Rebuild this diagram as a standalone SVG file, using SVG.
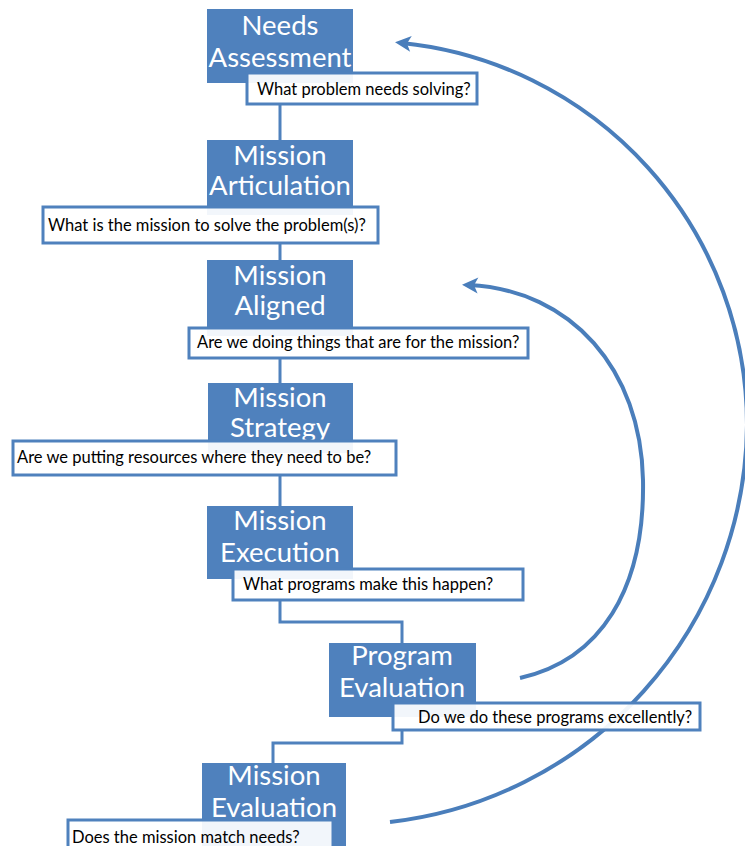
<svg xmlns="http://www.w3.org/2000/svg" width="745" height="846" viewBox="0 0 745 846">
<style>
.box{fill:#4F81BD}
.title{font-family:Lato,"Liberation Sans",sans-serif;font-size:27.5px;fill:#fff;text-anchor:middle}
.lbl{fill:#fff;fill-opacity:0.93;stroke:#4F81BD;stroke-width:3}
.q{font-family:Lato,"Liberation Sans",sans-serif;font-size:16.5px;fill:#000}
.conn{fill:none;stroke:#4F81BD;stroke-width:3}
.arc{fill:none;stroke:#4A7EBB;stroke-width:4}
</style>
<defs>
<marker id="ah" markerUnits="userSpaceOnUse" markerWidth="22" markerHeight="20" viewBox="-12 -10 22 20" refX="0" refY="0" orient="auto">
<path d="M7,0 L-9,-8 L-5,0 L-9,8 Z" fill="#4A7EBB"/>
</marker>
</defs>
<g id="connectors">
<path class="conn" d="M280,104 V140"/>
<path class="conn" d="M280,243 V260"/>
<path class="conn" d="M280,358 V383"/>
<path class="conn" d="M280,475 V506"/>
<path class="conn" d="M280,600 V622 H402 V643"/>
<path class="conn" d="M402,730 V743 H273 V763"/>
<path class="arc" d="M390,822 A403 403 0 0 0 747,425 A384 384 0 0 0 402,43" marker-end="url(#ah)"/>
<path class="arc" d="M520,678 C600,660 645,590 643,480 C641,370 572,290 469,285" marker-end="url(#ah)"/>
</g>
<g id="needs-assessment">
<rect class="box" x="207" y="9" width="146" height="74"/>
<text class="title" x="280" y="35">Needs</text>
<text class="title" x="280" y="67">Assessment</text>
<rect class="lbl" x="247" y="73" width="230" height="31"/>
<text class="q" x="257" y="95">What problem needs solving?</text>
</g>
<g id="mission-articulation">
<rect class="box" x="207" y="140" width="146" height="75"/>
<text class="title" x="280" y="165">Mission</text>
<text class="title" x="280" y="195">Articulation</text>
<rect class="lbl" x="43" y="207" width="335" height="36"/>
<text class="q" x="48" y="231">What is the mission to solve the problem(s)?</text>
</g>
<g id="mission-aligned">
<rect class="box" x="207" y="260" width="146" height="76"/>
<text class="title" x="280" y="285">Mission</text>
<text class="title" x="280" y="315">Aligned</text>
<rect class="lbl" x="189" y="328" width="339" height="30"/>
<text class="q" x="197" y="348">Are we doing things that are for the mission?</text>
</g>
<g id="mission-strategy">
<rect class="box" x="208" y="383" width="145" height="70"/>
<text class="title" x="280" y="407">Mission</text>
<text class="title" x="280" y="437">Strategy</text>
<rect class="lbl" x="13" y="441" width="383" height="34"/>
<text class="q" x="17" y="463">Are we putting resources where they need to be?</text>
</g>
<g id="mission-execution">
<rect class="box" x="207" y="506" width="146" height="73"/>
<text class="title" x="280" y="530">Mission</text>
<text class="title" x="280" y="562">Execution</text>
<rect class="lbl" x="233" y="569" width="290" height="31"/>
<text class="q" x="243" y="590">What programs make this happen?</text>
</g>
<g id="program-evaluation">
<rect class="box" x="329" y="643" width="147" height="74"/>
<text class="title" x="402" y="665">Program</text>
<text class="title" x="402" y="697">Evaluation</text>
<rect class="lbl" x="393" y="703" width="307" height="27"/>
<text class="q" x="418" y="723">Do we do these programs excellently?</text>
</g>
<g id="mission-evaluation">
<rect class="box" x="202" y="763" width="144" height="90"/>
<text class="title" x="274" y="785">Mission</text>
<text class="title" x="274" y="817">Evaluation</text>
<rect class="lbl" x="68" y="820" width="265" height="34"/>
<text class="q" x="72" y="843">Does the mission match needs?</text>
</g>
</svg>
